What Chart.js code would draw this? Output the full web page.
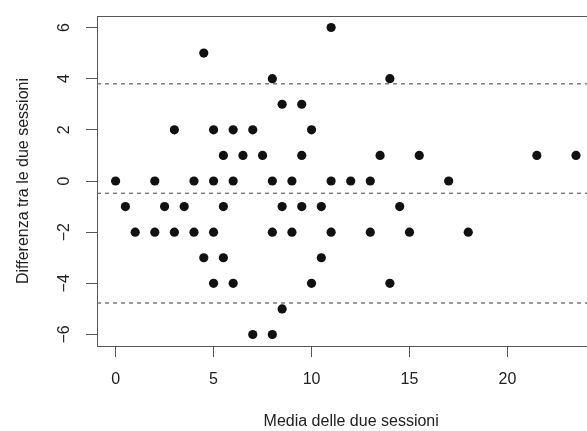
<!DOCTYPE html>
<html>
<head>
<meta charset="utf-8">
<script src="https://cdn.jsdelivr.net/npm/chart.js@4/dist/chart.umd.min.js"></script>
<style>
  html, body { margin: 0; padding: 0; background: #ffffff; overflow: hidden; }
  #wrap { width: 610px; height: 431px; }
</style>
</head>
<body>
<div id="wrap"><canvas id="c" width="610" height="431"></canvas></div>
<script>
// Media delle due sessioni (x) and Differenza tra le due sessioni (y)
const meanValues = [
  11,
  4.5,
  8, 14,
  8.5, 9.5,
  3, 5, 6, 7, 10,
  5.5, 6.5, 7.5, 9.5, 13.5, 15.5, 21.5, 23.5,
  0, 2, 4, 5, 6, 8, 9, 11, 12, 13, 17,
  0.5, 2.5, 3.5, 5.5, 8.5, 9.5, 10.5, 14.5,
  1, 2, 3, 4, 5, 8, 9, 11, 13, 15, 18,
  4.5, 5.5, 10.5,
  5, 6, 10, 14,
  8.5,
  7, 8
];
const diffValues = [
  6,
  5,
  4, 4,
  3, 3,
  2, 2, 2, 2, 2,
  1, 1, 1, 1, 1, 1, 1, 1,
  0, 0, 0, 0, 0, 0, 0, 0, 0, 0, 0,
  -1, -1, -1, -1, -1, -1, -1, -1,
  -2, -2, -2, -2, -2, -2, -2, -2, -2, -2, -2,
  -3, -3, -3,
  -4, -4, -4, -4,
  -5,
  -6, -6
];
// mean difference and limits of agreement (dashed lines)
const limitValues = [3.8, -0.48, -4.77];
const xTicks = [0, 5, 10, 15, 20];
const yTicks = [-6, -4, -2, 0, 2, 4, 6];
const xRange = [-0.95, 25.0];
const yRange = [-6.45, 6.45];

const FONT = '"Liberation Sans", Arial, Helvetica, sans-serif';
const AXIS = '#555555';
const TEXT = '#222222';

const points = meanValues.map((x, i) => ({ x: x, y: diffValues[i] }));
const limitDatasets = limitValues.map(v => ({
  type: 'line',
  data: [{ x: xRange[0], y: v }, { x: xRange[1], y: v }],
  borderColor: '#6a6a6a',
  borderWidth: 1.3,
  borderDash: [4, 4],
  pointRadius: 0,
  fill: false,
  order: 2
}));

new Chart(document.getElementById('c'), {
  type: 'scatter',
  data: {
    datasets: [
      {
        data: points,
        backgroundColor: '#111111',
        borderWidth: 0,
        pointRadius: 4.6,
        pointHoverRadius: 4.6,
        order: 1
      },
      ...limitDatasets
    ]
  },
  options: {
    responsive: false,
    animation: false,
    events: [],
    layout: { padding: { top: 16, right: 0, bottom: 0, left: 0 } },
    plugins: { legend: { display: false }, tooltip: { enabled: false } },
    scales: {
      x: {
        type: 'linear',
        position: 'bottom',
        min: xRange[0],
        max: xRange[1],
        afterBuildTicks: s => { s.ticks = xTicks.map(v => ({ value: v })); },
        afterFit: s => { s.height = 85; s.paddingLeft = 0; s.paddingRight = 0; },
        grid: { display: true, drawOnChartArea: false, drawTicks: true, tickLength: 11, color: AXIS, lineWidth: 1 },
        border: { display: true, color: AXIS, width: 1 },
        ticks: { color: TEXT, font: { family: FONT, size: 16 }, padding: 13, maxRotation: 0 },
        title: { display: true, text: 'Media delle due sessioni', color: TEXT, font: { family: FONT, size: 16 }, padding: { top: 0, bottom: 0 } }
      },
      x2: {
        type: 'linear',
        position: 'top',
        afterFit: s => { s.height = 0; },
        grid: { display: true, drawOnChartArea: false, drawTicks: false },
        border: { display: true, color: AXIS, width: 1 },
        ticks: { display: false }
      },
      y: {
        type: 'linear',
        position: 'left',
        min: yRange[0],
        max: yRange[1],
        afterBuildTicks: s => { s.ticks = yTicks.map(v => ({ value: v })); },
        afterFit: s => { s.width = 97; s.paddingTop = 0; s.paddingBottom = 0; },
        grid: { display: true, drawOnChartArea: false, drawTicks: true, tickLength: 11, color: AXIS, lineWidth: 1 },
        border: { display: true, color: AXIS, width: 1 },
        ticks: {
          color: TEXT,
          font: { family: FONT, size: 16 },
          padding: 12,
          minRotation: 90,
          maxRotation: 90,
          crossAlign: 'center',
          callback: v => (v < 0 ? '\u2212' + Math.abs(v) : String(v))
        },
        title: { display: true, text: 'Differenza tra le due sessioni', color: TEXT, font: { family: FONT, size: 16 }, padding: { top: 14, bottom: 0 } }
      }
    }
  }
});
</script>
</body>
</html>
